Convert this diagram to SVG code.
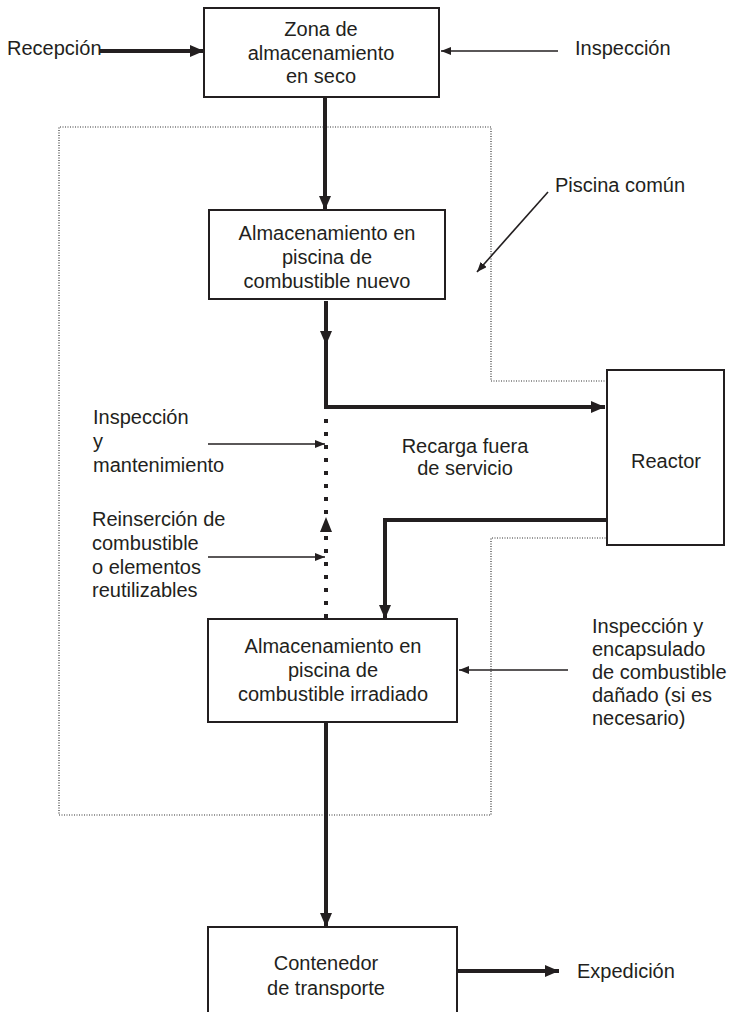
<svg xmlns="http://www.w3.org/2000/svg" width="729" height="1012" viewBox="0 0 729 1012">
<style>
text{font-family:"Liberation Sans",Arial,sans-serif;font-size:20px;fill:#231f20}
.c{text-anchor:middle}
.box{fill:#fff;stroke:#231f20;stroke-width:2}
.thick{fill:none;stroke:#231f20;stroke-width:4}
.thin{fill:none;stroke:#231f20;stroke-width:1.6}
.dot{fill:none;stroke:#231f20;stroke-width:4;stroke-dasharray:4 9}
.bound{fill:none;stroke:#333;stroke-width:1.2;stroke-dasharray:1 1.5}
</style>
<defs>
<marker id="ah" viewBox="0 0 14 12" refX="14" refY="6" markerWidth="14" markerHeight="12" markerUnits="userSpaceOnUse" orient="auto"><path d="M0,0 L14,6 L0,12 z" fill="#231f20"/></marker>
<marker id="as" viewBox="0 0 10 8" refX="10" refY="4" markerWidth="10" markerHeight="8" markerUnits="userSpaceOnUse" orient="auto"><path d="M0,0 L10,4 L0,8 z" fill="#231f20"/></marker>
</defs>
<g id="boundary">
<path class="bound" d="M607,381 L491,381 L491,127 L59,127 L59,815 L491,815 L491,538 L607,538"/>
</g>
<g id="connectors">
<path class="thick" d="M100,51 L204,51" marker-end="url(#ah)"/>
<path class="thin" d="M558,51 L441,51" marker-end="url(#as)"/>
<path class="thick" d="M325,97 L325,210" marker-end="url(#ah)"/>
<path class="thin" d="M548,192 L477,272" marker-end="url(#as)"/>
<path class="thick" d="M326,301 L326,345" marker-end="url(#ah)"/>
<path class="thick" d="M326,345 L326,407 L605,407" marker-end="url(#ah)"/>
<path class="dot" d="M326,419 L326,619"/>
<polygon points="326,517 320,532 332,532" fill="#231f20"/>
<path class="thin" d="M208,444 L325,444" marker-end="url(#as)"/>
<path class="thin" d="M208,557 L325,557" marker-end="url(#as)"/>
<path class="thick" d="M607,520 L385,520 L385,619" marker-end="url(#ah)"/>
<path class="thin" d="M568,670 L459,670" marker-end="url(#as)"/>
<path class="thick" d="M326,723 L326,927" marker-end="url(#ah)"/>
<path class="thick" d="M457,971 L559,971" marker-end="url(#ah)"/>
</g>
<g id="dry-storage">
<rect class="box" x="204" y="8" width="235" height="89"/>
<text class="c" x="321" y="36">Zona de</text>
<text class="c" x="321" y="60">almacenamiento</text>
<text class="c" x="321" y="83">en seco</text>
</g>
<g id="new-fuel-pool">
<rect class="box" x="209" y="210" width="236" height="89"/>
<text class="c" x="327" y="240">Almacenamiento en</text>
<text class="c" x="327" y="264">piscina de</text>
<text class="c" x="327" y="288">combustible nuevo</text>
</g>
<g id="reactor">
<rect class="box" x="607" y="370" width="117" height="175"/>
<text class="c" x="666" y="468">Reactor</text>
</g>
<g id="irradiated-pool">
<rect class="box" x="208" y="619" width="249" height="103"/>
<text class="c" x="333" y="653">Almacenamiento en</text>
<text class="c" x="333" y="677">piscina de</text>
<text class="c" x="333" y="701">combustible irradiado</text>
</g>
<g id="transport-cask">
<rect class="box" x="208" y="927" width="249" height="100"/>
<text class="c" x="326" y="970">Contenedor</text>
<text class="c" x="326" y="995">de transporte</text>
</g>
<g id="labels">
<text x="7" y="55">Recepción</text>
<text x="575" y="55">Inspección</text>
<text x="555" y="192">Piscina común</text>
<text x="93" y="424">Inspección</text>
<text x="93" y="448">y</text>
<text x="93" y="472">mantenimiento</text>
<text class="c" x="465" y="453">Recarga fuera</text>
<text class="c" x="465" y="475">de servicio</text>
<text x="92" y="526">Reinserción de</text>
<text x="92" y="550">combustible</text>
<text x="92" y="574">o elementos</text>
<text x="92" y="597">reutilizables</text>
<text x="592" y="633">Inspección y</text>
<text x="592" y="656">encapsulado</text>
<text x="592" y="679">de combustible</text>
<text x="592" y="702">dañado (si es</text>
<text x="592" y="725">necesario)</text>
<text x="577" y="978">Expedición</text>
</g>
</svg>
